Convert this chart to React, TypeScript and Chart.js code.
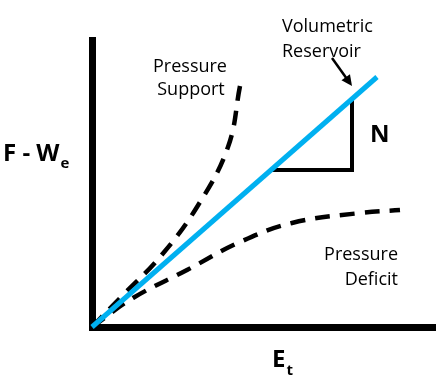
import React, { useEffect, useRef } from "react";
import { Chart, registerables } from "chart.js";

Chart.register(...registerables);

// Data in chart units (origin at the axes corner)
const volumetricX = [0, 285];
const volumetricY = [0, 250];
const supportX = [0, 31, 68, 105, 136, 148];
const supportY = [0, 32, 70, 120, 180, 241];
const deficitX = [0, 41, 95, 148, 200, 268, 308];
const deficitY = [0, 29, 57, 85, 104, 114, 117];
const triangleX = [180, 260, 260];
const triangleY = [157, 157, 228];
const xMax = 343;
const yMax = 287;

const yLabelMain = "F - W";
const yLabelSub = "e";
const xLabelMain = "E";
const xLabelSub = "t";
const supportLabel = ["Pressure", "Support"];
const deficitLabel = ["Pressure", "Deficit"];
const volumetricLabel = ["Volumetric", "Reservoir"];
const slopeLabel = "N";

const toPts = (xs: number[], ys: number[]) => xs.map((x, i) => ({ x, y: ys[i] }));

const labelPlugin = {
  id: "labels",
  afterDatasetsDraw(chart: any) {
    const { ctx, scales } = chart;
    const px = (v: number) => scales.x.getPixelForValue(v);
    const py = (v: number) => scales.y.getPixelForValue(v);
    ctx.save();
    ctx.fillStyle = "#000";
    ctx.textBaseline = "alphabetic";
    const reg = "18px 'Open Sans', sans-serif";
    const bold = "bold 24px 'Open Sans', sans-serif";
    const subBold = "bold 15px 'Open Sans', sans-serif";

    // Pressure Support
    ctx.font = reg;
    ctx.textAlign = "center";
    ctx.fillText(supportLabel[0], px(98), py(255));
    ctx.fillText(supportLabel[1], px(99), py(232));

    // Volumetric Reservoir
    ctx.textAlign = "left";
    ctx.fillText(volumetricLabel[0], px(190), py(295));
    ctx.fillText(volumetricLabel[1], px(190), py(270));

    // Pressure Deficit
    ctx.textAlign = "right";
    ctx.fillText(deficitLabel[0], px(306), py(67));
    ctx.fillText(deficitLabel[1], px(306), py(42));

    // N
    ctx.textAlign = "left";
    ctx.font = bold;
    ctx.fillText(slopeLabel, px(278), py(185));

    // F - We
    ctx.font = bold;
    const fx = px(-89);
    ctx.fillText(yLabelMain, fx, py(166));
    const w1 = ctx.measureText(yLabelMain).width;
    ctx.font = subBold;
    ctx.fillText(yLabelSub, fx + w1 + 1, py(159));

    // Et
    ctx.font = bold;
    const ex = px(180);
    ctx.fillText(xLabelMain, ex, py(-40));
    const w2 = ctx.measureText(xLabelMain).width;
    ctx.font = subBold;
    ctx.fillText(xLabelSub, ex + w2 + 1, py(-48));

    // Arrow
    const x1 = px(240), y1 = py(269), x2 = px(260), y2 = py(241);
    const ang = Math.atan2(y2 - y1, x2 - x1);
    ctx.strokeStyle = "#000";
    ctx.lineWidth = 2.5;
    ctx.beginPath();
    ctx.moveTo(x1, y1);
    ctx.lineTo(x2 - 8 * Math.cos(ang), y2 - 8 * Math.sin(ang));
    ctx.stroke();
    ctx.beginPath();
    ctx.moveTo(x2, y2);
    ctx.lineTo(x2 - 12 * Math.cos(ang - 0.45), y2 - 12 * Math.sin(ang - 0.45));
    ctx.lineTo(x2 - 12 * Math.cos(ang + 0.45), y2 - 12 * Math.sin(ang + 0.45));
    ctx.closePath();
    ctx.fill();
    ctx.restore();
  },
};

export default function App() {
  const ref = useRef<HTMLCanvasElement>(null);
  useEffect(() => {
    document.body.style.margin = "0";
    const chart = new Chart(ref.current!, {
      type: "line",
      data: {
        datasets: [
          {
            data: toPts(volumetricX, volumetricY),
            borderColor: "#00B0F0",
            borderWidth: 5,
            pointRadius: 0,
            clip: false as any,
          },
          {
            data: toPts(triangleX, triangleY),
            borderColor: "#000",
            borderWidth: 4,
            pointRadius: 0,
            borderJoinStyle: "miter",
            clip: false as any,
          },
          {
            data: toPts(supportX, supportY),
            borderColor: "#000",
            borderWidth: 4.5,
            borderDash: [15, 10],
            pointRadius: 0,
            tension: 0.4,
            clip: false as any,
          },
          {
            data: toPts(deficitX, deficitY),
            borderColor: "#000",
            borderWidth: 4.5,
            borderDash: [15, 10],
            pointRadius: 0,
            tension: 0.4,
            clip: false as any,
          },
        ],
      },
      options: {
        responsive: false,
        animation: false,
        layout: { padding: { left: 92, right: 7, top: 40, bottom: 53 } },
        plugins: { legend: { display: false }, tooltip: { enabled: false } },
        scales: {
          x: {
            type: "linear",
            min: 0,
            max: xMax,
            grid: { display: false, drawTicks: false },
            ticks: { display: false },
            border: { display: true, width: 7, color: "#000" },
          },
          y: {
            type: "linear",
            min: 0,
            max: yMax,
            grid: { display: false, drawTicks: false },
            ticks: { display: false },
            border: { display: true, width: 7, color: "#000" },
          },
        },
      },
      plugins: [labelPlugin],
    });
    return () => chart.destroy();
  }, []);
  return (
    <div style={{ position: "fixed", left: 0, top: 0, width: 442, height: 380, background: "#fff" }}>
      <canvas ref={ref} width={442} height={380} />
    </div>
  );
}
